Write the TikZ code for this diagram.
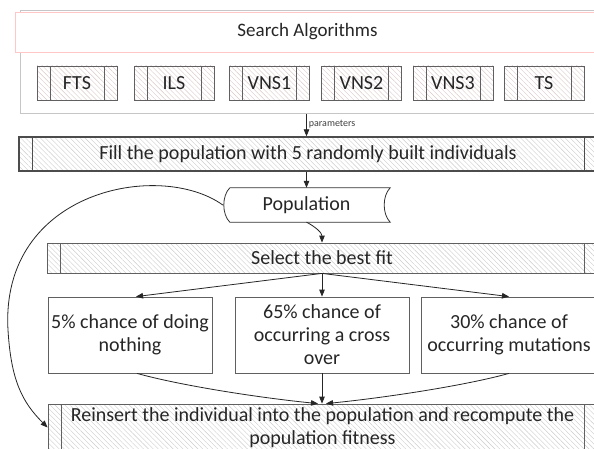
\documentclass[tikz,border=0pt]{standalone}
\usepackage{fontspec}
\setmainfont{Carlito}
\usetikzlibrary{patterns.meta,arrows.meta,calc}
\begin{document}
\begin{tikzpicture}[x=1pt,y=-1pt,
  txt/.style={font=\fontsize{20}{23}\selectfont, text=black!85, align=center, inner sep=0pt},
  predef/.style={path picture={
     \draw[#1] ([xshift=13pt]path picture bounding box.north west) -- ([xshift=13pt]path picture bounding box.south west);
     \draw[#1] ([xshift=-13pt]path picture bounding box.north east) -- ([xshift=-13pt]path picture bounding box.south east);}},
  subbox/.style={txt, draw=gray!75!black, line width=0.7pt, minimum width=80pt, minimum height=34pt,
     pattern={Lines[angle=-45,distance=3.5pt,line width=0.4pt]}, pattern color=red!20!gray!35,
     predef={gray!75!black, line width=0.7pt}},
  hatchbox/.style={txt, draw=gray!75!black, line width=0.8pt,
     pattern={Lines[angle=-45,distance=3.5pt,line width=0.4pt]}, pattern color=gray!40,
     predef={gray!75!black, line width=0.8pt}},
  plainbox/.style={txt, draw=gray!75!black, line width=0.8pt, fill=white},
  arr/.style={-{Triangle[length=7pt,width=5.5pt]}, line width=0.8pt, black!85},
]
\useasboundingbox (0,0) rectangle (594,449);
\clip (0,0) rectangle (594,449);
\fill[white] (0,0) rectangle (594,449);

% Search algorithms frame
\node[draw=gray!45, line width=1pt, minimum width=580pt, minimum height=103pt, inner sep=0pt] (search) at (310,62.5) {};
\node[txt, font=\fontsize{19}{22}\selectfont, draw=red!22, line width=0.6pt, fill=white, minimum width=585pt, minimum height=40pt] (title) at (307.5,32) {Search Algorithms};

\node[subbox] (fts)  at (77,83)    {FTS};
\node[subbox] (ils)  at (174,83)   {ILS};
\node[subbox] (vns1) at (269.5,83) {VNS1};
\node[subbox] (vns2) at (361.5,83) {VNS2};
\node[subbox] (vns3) at (453,83)   {VNS3};
\node[subbox] (ts)   at (544,83)   {TS};

% Fill box
\node[hatchbox, draw=black!70, line width=1.3pt, predef={black!70, line width=1pt}, minimum width=578pt, minimum height=34pt] (fill) at (308,154)
  {Fill the population with 5 randomly built individuals};

% Population (stored data)
\node[txt, minimum width=167pt, minimum height=34pt] (pop) at (306.5,205) {Population};
\draw[black!80, line width=0.8pt] ([xshift=7pt]pop.north west) -- (pop.north east)
   .. controls +(-8,8) and +(-8,-8) .. (pop.south east) -- ([xshift=7pt]pop.south west)
   .. controls +(-8,-8) and +(-8,8) .. ([xshift=7pt]pop.north west);

% Select
\node[hatchbox, minimum width=550pt, minimum height=30pt] (sel) at (322,258) {Select the best fit};

% Three outcome boxes
\node[plainbox, minimum width=164pt, minimum height=76pt] (box1) at (130,335) {5\% chance of doing\\nothing};
\node[plainbox, minimum width=174pt, minimum height=76pt] (box2) at (322,335) {65\% chance of\\occurring a cross\\over};
\node[plainbox, minimum width=176pt, minimum height=76pt] (box3) at (509,335) {30\% chance of\\occurring mutations};

% Reinsert
\node[hatchbox, minimum width=549pt, minimum height=47pt] (reins) at (322.5,427.5)
  {Reinsert the individual into the population and recompute the\\population fitness};

% connectors
\draw[arr] (search.south -| pop) -- node[pos=0.42, right, inner sep=2pt, font=\fontsize{10}{12}\selectfont, text=black!75]{parameters} (fill.north -| pop);
\draw[arr] (fill.south -| pop) -- (pop.north);
\draw[arr] (pop.south) .. controls +(8,4) and +(0,-10) .. (sel.north -| box2);

\coordinate (hub) at (sel.south -| box2);
\draw[arr] (hub) -- ([xshift=6pt]box1.north);
\draw[arr] (hub) -- (box2.north);
\draw[arr] (hub) -- (box3.north);

\draw[arr] ([xshift=7pt]box1.south) .. controls +(43,12) and +(-60,-6) .. ($(reins.north -| box2)+(-4,0)$);
\draw[arr] (box2.south) -- (reins.north -| box2);
\draw[arr] (box3.south) .. controls +(-43,12) and +(60,-6) .. ($(reins.north -| box2)+(4,0)$);

\coordinate (loopc) at (8,330);
\draw[arr] (pop.west) .. controls (160,160) and (0,190) .. (loopc) .. controls (11,380) and (22,402) .. (reins.west);
\end{tikzpicture}
\end{document}
